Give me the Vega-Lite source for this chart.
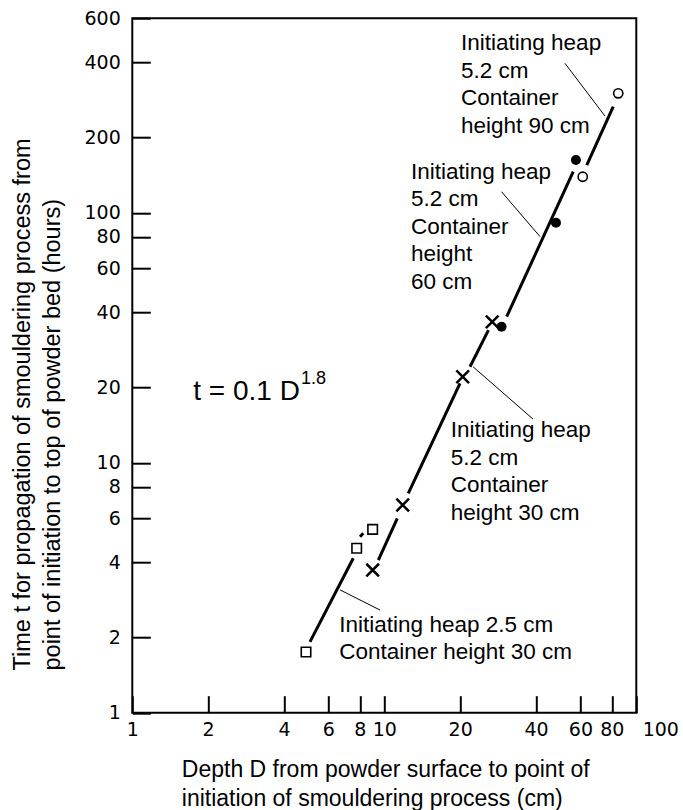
{
  "$schema": "https://vega.github.io/schema/vega-lite/v6.json",
  "width": 504,
  "height": 694.5,
  "autosize": {"type": "none"},
  "padding": {"left": 132.3, "top": 18.2, "right": 46.7, "bottom": 97.3},
  "background": "white",
  "config": {
    "view": {"stroke": "black", "strokeWidth": 2},
    "font": "Liberation Sans"
  },
  "encoding": {
    "x": {
      "field": "D", "type": "quantitative",
      "scale": {"type": "log", "domain": [1, 100]},
      "axis": {
        "title": ["Depth D from powder surface to point of", "initiation of smouldering process (cm)"],
        "values": [1, 2, 4, 6, 8, 10, 20, 40, 60, 80, 100],
        "format": "d",
        "domain": false, "grid": false,
        "offset": -17, "ticks": true, "tickSize": 17, "tickWidth": 2, "tickColor": "black",
        "labelPadding": 8, "labelFont": "DejaVu Sans", "labelFontSize": 19, "labelColor": "black",
        "labelFlush": false, "labelOverlap": false, "labelBound": false,
        "labelOffset": {"condition": {"test": "datum.value == 100", "value": 24}, "value": 0},
        "titleFont": "Liberation Sans", "titleFontSize": 23, "titleFontWeight": "normal", "titleColor": "black",
        "titleAlign": "left", "titleX": 49, "titleY": 62.5, "titleBaseline": "top", "titleLineHeight": 29
      }
    },
    "y": {
      "field": "t", "type": "quantitative",
      "scale": {"type": "log", "domain": [1, 600]},
      "axis": {
        "title": ["Time t for propagation of smouldering process from", "point of initiation to top of powder bed (hours)"],
        "values": [1, 2, 4, 6, 8, 10, 20, 40, 60, 80, 100, 200, 400, 600],
        "format": "d",
        "domain": false, "grid": false,
        "offset": -18, "ticks": true, "tickSize": 18, "tickWidth": 2, "tickColor": "black",
        "labelPadding": 12, "labelFont": "DejaVu Sans", "labelFontSize": 19, "labelColor": "black",
        "labelFlush": false, "labelOverlap": false, "labelBound": false,
        "titleFont": "Liberation Sans", "titleFontSize": 23.5, "titleFontWeight": "normal", "titleColor": "black",
        "titleAngle": -90, "titleAlign": "left", "titleBaseline": "top",
        "titleX": -140, "titleY": 651.8, "titleLineHeight": 30
      }
    }
  },
  "layer": [
    {
      "data": {"values": [
        {"seg": "A", "D": 5.07, "t": 1.92}, {"seg": "A", "D": 7.53, "t": 4.15},
        {"seg": "A2", "D": 8.01, "t": 5.06}, {"seg": "A2", "D": 8.25, "t": 5.22},
        {"seg": "B", "D": 9.47, "t": 4.08}, {"seg": "B", "D": 11.26, "t": 5.99},
        {"seg": "C", "D": 12.45, "t": 7.54}, {"seg": "C", "D": 19.97, "t": 20.78},
        {"seg": "Dd", "D": 21.88, "t": 24.2}, {"seg": "Dd", "D": 25.9, "t": 33.9},
        {"seg": "E", "D": 30.6, "t": 38.4}, {"seg": "E", "D": 56.2, "t": 145.9},
        {"seg": "F", "D": 63.6, "t": 155.2}, {"seg": "F", "D": 81.0, "t": 265.5}
      ]},
      "mark": {"type": "line", "color": "black", "strokeWidth": 3},
      "encoding": {"detail": {"field": "seg", "type": "nominal"}}
    },
    {
      "data": {"values": [
        {"seg": "L1", "D": 52.1, "t": 396}, {"seg": "L1", "D": 75.1, "t": 243.7},
        {"seg": "L2", "D": 29.2, "t": 121.3}, {"seg": "L2", "D": 41.5, "t": 80.2},
        {"seg": "L3", "D": 22.5, "t": 24.2}, {"seg": "L3", "D": 38.9, "t": 14.95},
        {"seg": "L4", "D": 6.67, "t": 3.1}, {"seg": "L4", "D": 9.61, "t": 2.575}
      ]},
      "mark": {"type": "line", "color": "black", "strokeWidth": 1},
      "encoding": {"detail": {"field": "seg", "type": "nominal"}}
    },
    {
      "data": {"values": [
        {"D": 4.89, "t": 1.75}, {"D": 7.77, "t": 4.55}, {"D": 8.99, "t": 5.41}
      ]},
      "mark": {"type": "point", "shape": "square", "filled": false, "size": 90, "strokeWidth": 1.6, "color": "black", "opacity": 1}
    },
    {
      "data": {"values": [
        {"D": 8.99, "t": 3.72}, {"D": 11.83, "t": 6.77}, {"D": 20.47, "t": 22.08}, {"D": 26.8, "t": 36.6}
      ]},
      "mark": {"type": "point", "shape": "M-1,-1L1,1M-1,1L1,-1", "filled": false, "size": 160, "strokeWidth": 2.5, "color": "black", "opacity": 1}
    },
    {
      "data": {"values": [
        {"D": 29.2, "t": 35.0}, {"D": 48.0, "t": 91.2}, {"D": 57.6, "t": 162.5}
      ]},
      "mark": {"type": "circle", "size": 100, "color": "black", "opacity": 1}
    },
    {
      "data": {"values": [
        {"D": 61.3, "t": 139.3}, {"D": 84.8, "t": 300.4}
      ]},
      "mark": {"type": "point", "shape": "circle", "filled": false, "size": 85, "strokeWidth": 1.6, "color": "black", "opacity": 1}
    },
    {
      "data": {"values": [
        {"D": 20.16, "t": 476, "label": "Initiating heap\n5.2 cm\nContainer\nheight 90 cm"},
        {"D": 12.76, "t": 145.9, "label": "Initiating heap\n5.2 cm\nContainer\nheight\n60 cm"},
        {"D": 18.34, "t": 13.51, "label": "Initiating heap\n5.2 cm\nContainer\nheight 30 cm"},
        {"D": 6.63, "t": 2.243, "label": "Initiating heap 2.5 cm\nContainer height 30 cm"}
      ]},
      "mark": {"type": "text", "align": "left", "baseline": "middle", "fontSize": 22.5, "lineHeight": 27.5, "lineBreak": "\n", "color": "black", "font": "Liberation Sans"},
      "encoding": {"text": {"field": "label", "type": "nominal"}}
    },
    {
      "data": {"values": [
        {"D": 1.746, "t": 19.23, "label": "t = 0.1 D"}
      ]},
      "mark": {"type": "text", "align": "left", "baseline": "middle", "fontSize": 28, "color": "black", "font": "Liberation Sans"},
      "encoding": {"text": {"field": "label", "type": "nominal"}}
    },
    {
      "data": {"values": [
        {"D": 4.67, "t": 21.6, "label": "1.8"}
      ]},
      "mark": {"type": "text", "align": "left", "baseline": "middle", "fontSize": 18, "color": "black", "font": "Liberation Sans"},
      "encoding": {"text": {"field": "label", "type": "nominal"}}
    }
  ]
}
